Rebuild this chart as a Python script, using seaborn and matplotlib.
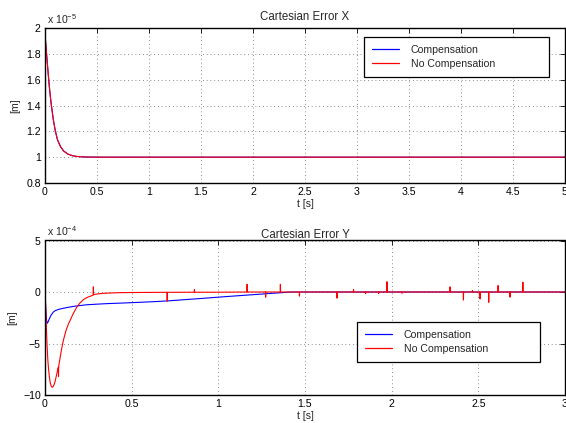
import matplotlib
matplotlib.use("Agg")
import matplotlib.pyplot as plt
import seaborn as sns

# ---------------- data (displayed units) ----------------
# Top: Cartesian error X, units of 1e-5 m
tx_time = [0, 0.01, 0.02, 0.03, 0.04, 0.05, 0.06, 0.08, 0.10, 0.12, 0.15, 0.18,
           0.22, 0.26, 0.30, 0.35, 0.40, 0.5, 1.0, 2.0, 3.0, 4.0, 5.0]
tx_comp = [1.95, 1.85, 1.75, 1.65, 1.56, 1.48, 1.41, 1.29, 1.20, 1.135, 1.08, 1.047,
           1.024, 1.012, 1.006, 1.003, 1.001, 1.0, 1.0, 1.0, 1.0, 1.0, 1.0]
tx_nocomp = [1.94, 1.86, 1.75, 1.66, 1.56, 1.48, 1.41, 1.29, 1.20, 1.135, 1.08, 1.047,
             1.024, 1.012, 1.006, 1.003, 1.001, 1.0, 1.0, 1.0, 1.0, 1.0, 1.0]

# Bottom: Cartesian error Y, units of 1e-4 m
ty_comp_time = [0, 0.004, 0.008, 0.012, 0.018, 0.025, 0.035, 0.048, 0.06, 0.08, 0.106,
                0.13, 0.163, 0.2, 0.24, 0.3, 0.356, 0.45, 0.548, 0.65, 0.711, 0.8, 0.9,
                1.0, 1.1, 1.2, 1.3, 1.38, 1.42, 1.5, 3.0]
ty_comp = [0, -1.5, -2.6, -3.05, -2.9, -2.6, -2.25, -1.95, -1.8, -1.68, -1.58,
           -1.5, -1.4, -1.32, -1.24, -1.18, -1.13, -1.07, -1.0, -0.92, -0.86, -0.75, -0.63,
           -0.5, -0.38, -0.26, -0.14, -0.05, 0, 0, 0]

ty_nocomp_time = [0, 0.004, 0.008, 0.012, 0.016, 0.02, 0.025, 0.03, 0.036, 0.042, 0.05,
                  0.058, 0.066, 0.074, 0.077, 0.078, 0.079, 0.085, 0.095, 0.106, 0.12,
                  0.135, 0.144, 0.16, 0.183, 0.2, 0.221, 0.24, 0.26, 0.278, 0.279, 0.280,
                  0.30, 0.33, 0.37, 0.42, 0.5, 0.6,
                  0.704, 0.705, 0.706, 0.861, 0.862, 0.863, 1.0,
                  1.165, 1.166, 1.167, 1.272, 1.273, 1.274, 1.357, 1.358, 1.359,
                  1.467, 1.468, 1.469, 1.684, 1.685, 1.686, 1.779, 1.780, 1.781,
                  1.849, 1.850, 1.851, 1.924, 1.925, 1.926, 1.972, 1.973, 1.974,
                  2.059, 2.060, 2.061, 2.336, 2.337, 2.338, 2.413, 2.414, 2.415,
                  2.465, 2.466, 2.467, 2.509, 2.510, 2.511, 2.559, 2.560, 2.561,
                  2.613, 2.614, 2.615, 2.682, 2.683, 2.684, 2.756, 2.757, 2.758, 3.0]
ty_nocomp = [0.6, -1.5, -3.5, -5.2, -6.5, -7.4, -8.2, -8.8, -9.15, -9.25, -9.1,
             -8.7, -8.1, -7.5, -7.3, -8.2, -7.2, -6.6, -5.6, -4.7, -3.8,
             -3.1, -2.8, -2.2, -1.47, -1.1, -0.75, -0.55, -0.42, -0.3, 0.5, -0.25,
             -0.2, -0.14, -0.1, -0.07, -0.05, -0.04,
             -0.03, -0.9, -0.03, -0.02, 0.23, -0.02, -0.02,
             0, 0.75, 0, 0, -0.5, 0, 0, 0.75, 0,
             0, -0.4, 0, 0, -0.6, 0, 0, 0.25, 0,
             0, -0.15, 0, 0, -0.15, 0, 0, 1.0, 0,
             0, -0.12, 0, 0, 0.5, 0, 0, -0.78, 0,
             0, 0.15, 0, 0, -0.68, 0, 0, -1.0, 0,
             0, 0.63, 0, 0, -0.5, 0, 0, 0.95, 0, 0]

x_ticks_top = [0, 0.5, 1, 1.5, 2, 2.5, 3, 3.5, 4, 4.5, 5]
y_ticks_top = [0.8, 1, 1.2, 1.4, 1.6, 1.8, 2]
x_ticks_bot = [0, 0.5, 1, 1.5, 2, 2.5, 3]
y_ticks_bot = [-10, -5, 0, 5]

# ---------------- style ----------------
sns.set_style("white")
plt.rcParams['font.family'] = ['Liberation Sans', 'DejaVu Sans']
plt.rcParams['mathtext.fontset'] = 'custom'
plt.rcParams['mathtext.rm'] = 'Liberation Sans'
plt.rcParams['mathtext.it'] = 'Liberation Sans'
plt.rcParams['axes.unicode_minus'] = True

W, H = 566, 423
fig = plt.figure(figsize=(W / 100, H / 100), dpi=100)

def px_axes(left, top, right, bottom):
    return fig.add_axes([left / W, 1 - bottom / H, (right - left) / W, (bottom - top) / H])

ax1 = px_axes(45, 28, 565, 183)
ax2 = px_axes(45, 240.5, 565, 395)

BLUE = (0, 0, 1)
RED = (1, 0, 0)
LW = 0.8

sns.lineplot(x=tx_time, y=tx_comp, ax=ax1, color=BLUE, lw=LW, estimator=None, sort=False,
             label='Compensation')
sns.lineplot(x=tx_time, y=tx_nocomp, ax=ax1, color=RED, lw=LW, estimator=None, sort=False,
             label='No Compensation')
sns.lineplot(x=ty_comp_time, y=ty_comp, ax=ax2, color=BLUE, lw=LW, estimator=None, sort=False,
             label='Compensation')
sns.lineplot(x=ty_nocomp_time, y=ty_nocomp, ax=ax2, color=RED, lw=LW, estimator=None, sort=False,
             label='No Compensation')

FS = 7.6

def style(ax, xt, yt, xlim, ylim, title, title_pad, leg_px, ax_px, exp):
    ax.set_xlim(*xlim)
    ax.set_ylim(*ylim)
    ax.set_xticks(xt)
    ax.set_yticks(yt)
    ax.set_xticklabels([f"{v:g}" for v in xt])
    ax.set_yticklabels([f"{v:g}".replace('-', '\u2212') for v in yt])
    ax.grid(True, color='#666666', linestyle=(0, (1, 3.5)), linewidth=0.6)
    ax.tick_params(direction='in', length=3.5, width=0.6, top=True, right=True,
                   labelsize=FS, pad=3, colors='black')
    for s in ax.spines.values():
        s.set_color('black')
        s.set_linewidth(1.0)
    ax.set_xlabel('t [s]', fontsize=FS, labelpad=1)
    ax.set_ylabel('[m]', fontsize=FS, labelpad=4)
    ax.set_title(title, fontsize=8.3, pad=title_pad)
    ax.text(0.003, 1.015, r'x 10$^{' + exp + '}$', transform=ax.transAxes,
            fontsize=FS, ha='left', va='bottom')
    # legend box in pixel coordinates -> axes fraction
    l, t, r, b = leg_px
    al, at, ar, ab = ax_px
    x0 = (l - al) / (ar - al)
    w = (r - l) / (ar - al)
    y1 = (ab - t) / (ab - at)
    y0 = (ab - b) / (ab - at)
    leg = ax.legend(loc='upper left', bbox_to_anchor=(x0, y0, w, y1 - y0), mode='expand',
                    fontsize=FS, frameon=True, fancybox=False, framealpha=1,
                    edgecolor='black', borderaxespad=0, handlelength=2.6,
                    handletextpad=1.1, labelspacing=0.35, borderpad=0.75)
    leg.get_frame().set_linewidth(0.9)
    for line in leg.get_lines():
        line.set_linewidth(0.9)

style(ax1, x_ticks_top, y_ticks_top, (0, 5), (0.8, 2), 'Cartesian Error X', 5.5,
      (364, 37, 549, 77), (45, 28, 565, 183), '-5')
style(ax2, x_ticks_bot, y_ticks_bot, (0, 3), (-10, 5), 'Cartesian Error Y', 1.5,
      (357, 322, 540, 362), (45, 240.5, 565, 395), '-4')

fig.savefig('out.png', dpi=100)
